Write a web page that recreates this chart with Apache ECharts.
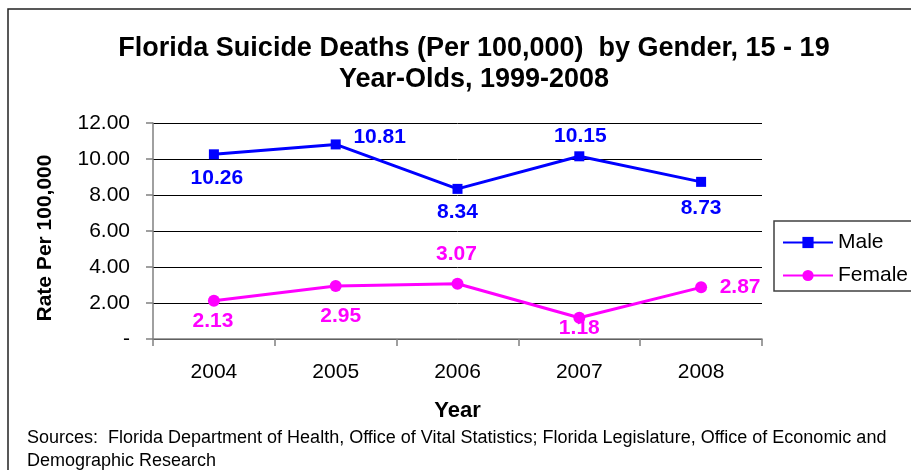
<!DOCTYPE html>
<html><head><meta charset="utf-8">
<script src="https://cdn.jsdelivr.net/npm/echarts@6/dist/echarts.min.js"></script>
<style>html,body{margin:0;padding:0;background:#fff}#c{width:911px;height:470px}</style>
</head><body><div id="c"></div>
<script>
const years = ['2004','2005','2006','2007','2008'];
const male = [10.26, 10.81, 8.34, 10.15, 8.73];
const female = [2.13, 2.95, 3.07, 1.18, 2.87];
const yTicks = ['-', '2.00', '4.00', '6.00', '8.00', '10.00', '12.00'];
// label placement offsets (style only)
const maleLabelOffset = [[3,24],[44,-7],[0,23],[1,-20],[0,26]];
const femaleLabelOffset = [[-1,21],[5,30],[-1,-30],[0,10],[39,0]];

const F = '"Liberation Sans", Arial, sans-serif';
const chart = echarts.init(document.getElementById('c'));
function mk(vals, offs, color) {
  return vals.map((v, i) => ({
    value: v,
    label: { show: true, position: 'inside', offset: offs[i], color: color, fontWeight: 'bold', fontSize: 21, fontFamily: F,
      formatter: p => p.value.toFixed(2) }
  }));
}
chart.setOption({
  animation: false,
  title: {
    text: 'Florida Suicide Deaths (Per 100,000)  by Gender, 15 - 19\nYear-Olds, 1999-2008',
    left: 469, top: 28, textAlign: 'center',
    textStyle: { fontFamily: F, fontWeight: 'bold', fontSize: 27, lineHeight: 31, color: '#000' }
  },
  legend: {
    left: 774, top: 221, orient: 'vertical', itemGap: 12, itemWidth: 50, itemHeight: 14,
    borderColor: '#404040', borderWidth: 1.5, padding: [11, 30, 5, 8],
    textStyle: { fontFamily: F, fontSize: 21, color: '#000' },
    data: ['Male', 'Female']
  },
  grid: { left: 153, right: 149, top: 123, bottom: 131 },
  xAxis: {
    type: 'category', data: years, boundaryGap: true,
    name: 'Year', nameLocation: 'middle', nameGap: 61,
    nameTextStyle: { fontFamily: F, fontWeight: 'bold', fontSize: 22, color: '#000' },
    axisLine: { lineStyle: { color: '#808080', width: 1.5 } },
    axisTick: { show: true, length: 7, lineStyle: { color: '#808080', width: 1.5 } },
    axisLabel: { fontFamily: F, fontSize: 21, color: '#000', margin: 23 }
  },
  yAxis: {
    type: 'value', min: 0, max: 12, interval: 2,
    axisLine: { show: true, lineStyle: { color: '#808080', width: 1.5 } },
    axisTick: { show: true, length: 7, lineStyle: { color: '#808080', width: 1.5 } },
    splitLine: { lineStyle: { color: '#000', width: 1 } },
    axisLabel: { fontFamily: F, fontSize: 21, color: '#000', margin: 23,
      formatter: v => yTicks[Math.round(v / 2)] }
  },
  series: [
    { name: 'Male', type: 'line', data: mk(male, maleLabelOffset, '#0000FF'),
      symbol: 'rect', symbolSize: 10, color: '#0000FF', lineStyle: { width: 3, color: '#0000FF' },
      itemStyle: { color: '#0000FF' } },
    { name: 'Female', type: 'line', data: mk(female, femaleLabelOffset, '#FF00FF'),
      symbol: 'circle', symbolSize: 12, color: '#FF00FF', lineStyle: { width: 3, color: '#FF00FF' },
      itemStyle: { color: '#FF00FF' } }
  ],
  graphic: [
    { type: 'rect', shape: { x: 8, y: 9, width: 920, height: 480 }, style: { fill: 'none', stroke: '#222', lineWidth: 1.5 } },
    { type: 'text', x: 45, y: 238, rotation: Math.PI / 2, style: { text: 'Rate Per 100,000', fontFamily: F, fontWeight: 'bold', fontSize: 21, fill: '#000', align: 'center', verticalAlign: 'middle' } },
    { type: 'text', left: 27, top: 427, style: { text: 'Sources:  Florida Department of Health, Office of Vital Statistics; Florida Legislature, Office of Economic and\nDemographic Research', fontFamily: F, fontSize: 18, lineHeight: 23, fill: '#000' } }
  ]
});
</script></body></html>
